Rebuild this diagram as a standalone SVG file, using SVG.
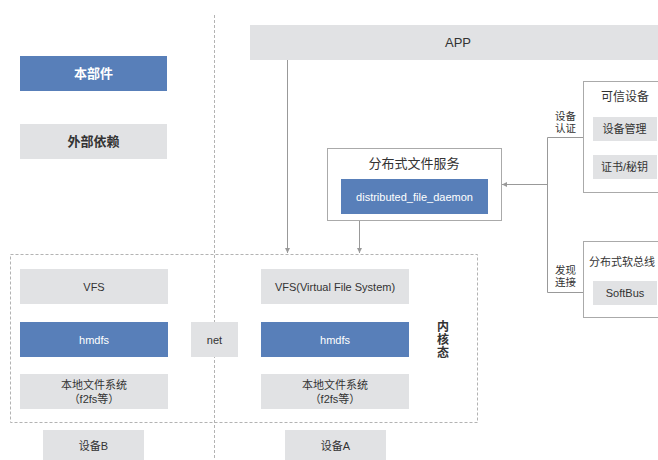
<svg xmlns="http://www.w3.org/2000/svg" width="658" height="460" viewBox="0 0 658 460">
<defs>
<style>
.t{font-family:"Liberation Sans","Noto Sans CJK SC",sans-serif;text-anchor:middle;fill:#333}
.w{fill:#fff}
.b{font-weight:bold}
.blue{fill:#587fb9}
.gray{fill:#e1e2e4}
.box{fill:#fff;stroke:#aaa;stroke-width:1}
.ln{fill:none;stroke:#999;stroke-width:1}
.dash{fill:none;stroke:#b3b3b3;stroke-width:1;stroke-dasharray:3 2}
</style>
<marker id="ah" viewBox="0 0 6 6" refX="6" refY="3" markerWidth="5" markerHeight="5" orient="auto" markerUnits="userSpaceOnUse">
<path d="M0,0 L6,3 L0,6 z" fill="#999"/>
</marker>
</defs>
<rect width="658" height="460" fill="#fff"/>

<g id="legend">
<g id="legend-self"><rect class="blue" x="20" y="56" width="147" height="35"/><text class="t w b" x="93.5" y="78" font-size="13">本部件</text></g>
<g id="legend-ext"><rect class="gray" x="20" y="124" width="147" height="35"/><text class="t b" x="93.5" y="146" font-size="13">外部依赖</text></g>
</g>

<line class="dash" x1="214.5" y1="15" x2="214.5" y2="460"/>
<rect id="kernel" class="dash" x="10.5" y="254.5" width="467" height="168"/>

<g id="connectors">
<line class="ln" x1="287.5" y1="60" x2="287.5" y2="253" marker-end="url(#ah)"/>
<line class="ln" x1="359.5" y1="221" x2="359.5" y2="253" marker-end="url(#ah)"/>
<polyline class="ln" points="583,137.5 547.5,137.5 547.5,292.5 583,292.5"/>
<line class="ln" x1="547.5" y1="184.5" x2="502" y2="184.5" marker-end="url(#ah)"/>
</g>

<g id="app"><rect class="gray" x="250" y="25" width="416" height="35"/><text class="t" x="458" y="47" font-size="13">APP</text></g>

<g id="dfs">
<rect class="box" x="327.5" y="148.5" width="174" height="72"/>
<text class="t" x="414" y="167.5" font-size="13">分布式文件服务</text>
<rect class="blue" x="341" y="179" width="147" height="35"/>
<text class="t w" x="414.5" y="200.5" font-size="11">distributed_file_daemon</text>
</g>

<g id="trusted">
<rect class="box" x="583.5" y="81.5" width="90" height="111"/>
<text class="t" x="625" y="101" font-size="12">可信设备</text>
<rect class="gray" x="593" y="117" width="64" height="24"/>
<text class="t" x="624.5" y="133" font-size="11">设备管理</text>
<rect class="gray" x="593" y="155" width="64" height="24"/>
<text class="t" x="624.5" y="171" font-size="11">证书/秘钥</text>
</g>
<g id="lbl-auth"><text class="t" x="565.5" y="119.5" font-size="10.5">设备</text><text class="t" x="565.5" y="131.5" font-size="10.5">认证</text></g>

<g id="softbus">
<rect class="box" x="583.5" y="241.5" width="90" height="76"/>
<text class="t" x="589" y="266" font-size="11" style="text-anchor:start">分布式软总线</text>
<rect class="gray" x="593" y="281" width="64" height="24"/>
<text class="t" x="625" y="297" font-size="11">SoftBus</text>
</g>
<g id="lbl-disc"><text class="t" x="565.5" y="274" font-size="10.5">发现</text><text class="t" x="565.5" y="286" font-size="10.5">连接</text></g>

<g id="vfs-b"><rect class="gray" x="20" y="269" width="148" height="35"/><text class="t" x="94" y="290.5" font-size="11">VFS</text></g>
<g id="hmdfs-b"><rect class="blue" x="20" y="322" width="148" height="35"/><text class="t w" x="94" y="343.5" font-size="11">hmdfs</text></g>
<g id="local-b"><rect class="gray" x="20" y="374" width="148" height="35"/><text class="t" x="94" y="389" font-size="11">本地文件系统</text><text class="t" x="94" y="402.5" font-size="11">（f2fs等）</text></g>
<g id="dev-b"><rect class="gray" x="43" y="430" width="101" height="30"/><text class="t" x="93.5" y="449.5" font-size="11">设备B</text></g>

<g id="net"><rect class="gray" x="191" y="322" width="47" height="35"/><text class="t" x="214.5" y="343.5" font-size="11">net</text></g>

<g id="vfs-a"><rect class="gray" x="261" y="269" width="148" height="35"/><text class="t" x="335" y="290.5" font-size="11">VFS(Virtual File System)</text></g>
<g id="hmdfs-a"><rect class="blue" x="261" y="322" width="148" height="35"/><text class="t w" x="335" y="343.5" font-size="11">hmdfs</text></g>
<g id="local-a"><rect class="gray" x="261" y="374" width="148" height="35"/><text class="t" x="335" y="389" font-size="11">本地文件系统</text><text class="t" x="335" y="402.5" font-size="11">（f2fs等）</text></g>
<g id="dev-a"><rect class="gray" x="285" y="430" width="101" height="30"/><text class="t" x="335.5" y="449.5" font-size="11">设备A</text></g>

<g id="lbl-kernel"><text class="t b" x="443" y="331" font-size="12">内</text><text class="t b" x="443" y="344" font-size="12">核</text><text class="t b" x="443" y="357" font-size="12">态</text></g>
</svg>
